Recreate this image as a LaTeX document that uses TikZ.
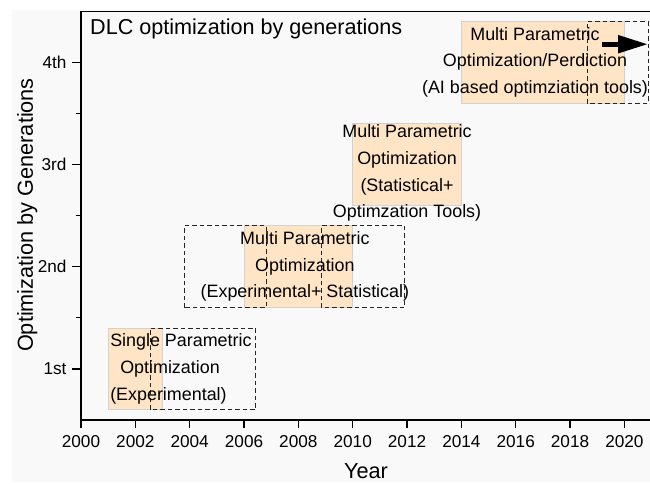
\documentclass[tikz,border=0pt]{standalone}
\usepackage{fontspec}
\setmainfont{Liberation Sans}
\usetikzlibrary{arrows.meta}
\definecolor{genfill}{HTML}{FFE4C6}
\definecolor{genedge}{HTML}{D2D2D2}
\definecolor{panel}{HTML}{F9F9F9}

\begin{document}
\begin{tikzpicture}[
    every node/.style={inner sep=0pt, align=center, font=\fontsize{17.9}{26.6}\selectfont},
    genbox/.style={fill=genfill, draw=genedge, line width=0.8pt},
    overlap/.style={draw=black!85, dash pattern=on 4.5pt off 3pt, line width=0.9pt},
    axisline/.style={line width=1.3pt},
    ticktext/.style={font=\fontsize{17.2}{20}\selectfont},
    axistext/.style={font=\fontsize{21.7}{26}\selectfont}
]

\useasboundingbox (-81pt,-63pt) rectangle (569pt,420pt);
\fill [panel] (-69pt,-62pt) rectangle (569pt,410pt);

\begin{scope}[x=27.17pt, y=102.2pt, yshift=-51.1pt]
    \draw [genbox] (1,0.6) rectangle (3,1.4);
    \draw [genbox] (6,1.6) rectangle (10,2.4);
    \draw [genbox] (10,2.6) rectangle (14,3.4);
    \draw [genbox] (14,3.6) rectangle (20,4.4);

    \draw [overlap] (2.54,0.6) rectangle (6.43,1.4);
    \draw [overlap] (3.8,1.6) rectangle (6.83,2.4);
    \draw [overlap] (8.86,1.6) rectangle (11.92,2.4);
    \draw [overlap] (18.63,3.6) rectangle (20.87,4.4);

    \draw [axisline] (21,0.5) -- (0,0.5) -- (0,4.5) -- (21,4.5);
    \foreach \yr [evaluate=\yr as \xo using int(\yr-2000)] in {2000,2002,...,2020} {
        \draw [axisline] (\xo,0.5) -- ++(0,-8pt);
        \node [ticktext] (year\yr) at ([yshift=-21.7pt]\xo,0.5) {\yr};
    }
    \foreach \g/\lab in {1/1st,2/2nd,3/3rd,4/4th} {
        \draw [axisline] (0,\g) -- ++(-8.5pt,0);
        \node [ticktext, anchor=east] (gen\g) at ([xshift=-14.3pt]0,\g) {\lab};
    }
    \foreach \g in {1.5,2.5,3.5}
        \draw [axisline] (0,\g) -- ++(-4.5pt,0);

    \node [anchor=west, align=left] (single) at (1.07,1)
        {Single Parametric\\\hspace*{10pt}Optimization\\(Experimental)};
    \node (multiexp) at (8.24,2)
        {Multi Parametric\\Optimization\\(Experimental+ Statistical)};
    \node (multistat) at (12.0,2.915)
        {Multi Parametric\\Optimization\\(Statistical+\\Optimzation Tools)};
    \node (multiai) at (16.71,4)
        {Multi Parametric\\Optimization/Perdiction\\(AI based optimziation tools)};

    \coordinate (trendtail) at (19.16,4.177);
    \coordinate (trendhead) at (20.87,4.177);
    \draw [line width=5pt, -{Triangle[length=30pt,width=17pt]}] (trendtail) -- (trendhead);
\end{scope}

\node [anchor=base west, font=\fontsize{21.6}{25}\selectfont] (plottitle) at (9pt,385pt)
    {DLC optimization by generations};
\node [axistext, anchor=base] (xlabel) at (285pt,-58pt) {Year};
\node [axistext, anchor=base, rotate=90] (ylabel) at (-48pt,205pt)
    {Optimization by Generations};

\end{tikzpicture}
\end{document}
